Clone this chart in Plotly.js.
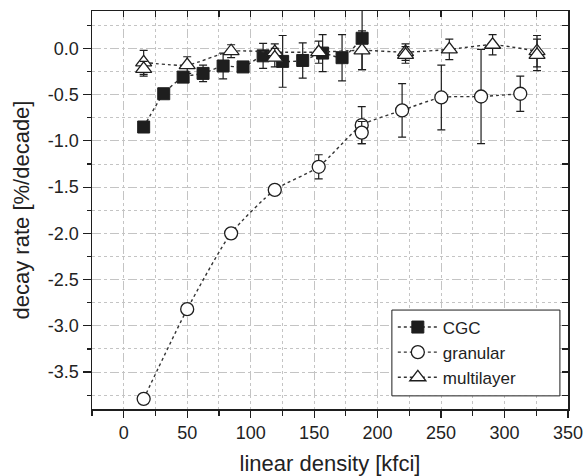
<!DOCTYPE html>
<html>
<head>
<meta charset="utf-8">
<script src="https://cdn.plot.ly/plotly-3.0.1.min.js"></script>
<style>html,body{margin:0;padding:0;background:#fff;}#chart{width:584px;height:476px;}</style>
</head>
<body>
<div id="chart"></div>
<script>
// CGC
const cgcX = [15.7, 31.5, 46.8, 62.5, 78.3, 94, 109.8, 125.2, 141, 156.7, 172, 187.8];
const cgcY = [-0.85, -0.49, -0.31, -0.27, -0.19, -0.20, -0.08, -0.14, -0.13, -0.05, -0.10, 0.11];
const cgcErr = [0.02, 0.02, 0.03, 0.09, 0.14, 0.03, 0.135, 0.28, 0.19, 0.2, 0.25, 0.34];
// granular
const granX = [15.7, 50, 84.6, 119, 153.6, 187.5, 219.3, 250.2, 281.5, 312.4];
const granY = [-3.79, -2.82, -2.00, -1.53, -1.28, -0.83, -0.67, -0.53, -0.52, -0.49];
const granErr = [0.03, 0.04, 0.05, 0.05, 0.13, 0.2, 0.29, 0.35, 0.51, 0.19];
const granExtraX = [187.5];
const granExtraY = [-0.91];
const granExtraErr = [0.12];
// multilayer
const multiX = [15.7, 50, 84.6, 119, 153.6, 187.7, 222, 256.5, 290.6, 325.6];
const multiY = [-0.15, -0.18, -0.03, -0.04, -0.04, -0.02, -0.04, -0.01, 0.04, -0.03];
const multiErr = [0.13, 0.09, 0.07, 0.09, 0.12, 0.21, 0.09, 0.11, 0.11, 0.17];
const multiExtraX = [15.7, 119, 222, 325.6];
const multiExtraY = [-0.22, -0.10, -0.07, -0.07];
const multiExtraErr = [0.08, 0.1, 0.09, 0.17];
// ticks
const xTickVals = [0, 50, 100, 150, 200, 250, 300, 350];
const xTickText = ["0", "50", "100", "150", "200", "250", "300", "350"];
const yTickVals = [0, -0.5, -1, -1.5, -2, -2.5, -3, -3.5];
const yTickText = ["0.0", "-0.5", "-1.0", "-1.5", "-2.0", "-2.5", "-3.0", "-3.5"];

const ink = '#1e1e1e';
const lineStyle = {color: '#333', width: 1.4, dash: 'dot', shape: 'spline', smoothing: 0.6};
function err(a) { return {type: 'data', array: a, visible: true, color: ink, thickness: 1.2, width: 4}; }

const traces = [
  {x: cgcX, y: cgcY, name: 'CGC', mode: 'lines+markers', line: lineStyle,
   marker: {symbol: 'square', size: 12, color: ink, line: {color: ink, width: 1}}, error_y: err(cgcErr)},
  {x: granX, y: granY, name: 'granular', mode: 'lines+markers', line: lineStyle,
   marker: {symbol: 'circle', size: 13, color: '#fff', line: {color: ink, width: 1.3}}, error_y: err(granErr)},
  {x: granExtraX, y: granExtraY, name: 'granular', showlegend: false, mode: 'markers',
   marker: {symbol: 'circle', size: 13, color: '#fff', line: {color: ink, width: 1.3}}, error_y: err(granExtraErr)},
  {x: multiX, y: multiY, name: 'multilayer', mode: 'lines+markers', line: lineStyle,
   marker: {symbol: 'triangle-up', size: 14, color: '#fff', line: {color: ink, width: 1.3}}, error_y: err(multiErr)},
  {x: multiExtraX, y: multiExtraY, name: 'multilayer', showlegend: false, mode: 'markers',
   marker: {symbol: 'triangle-up', size: 14, color: '#fff', line: {color: ink, width: 1.3}}, error_y: err(multiExtraErr)},
  {x: [0], y: [0], xaxis: 'x2', yaxis: 'y2', mode: 'markers', marker: {opacity: 0}, showlegend: false, hoverinfo: 'skip'}
];

const fam = 'Liberation Sans, Arial, sans-serif';
const font = {family: fam, size: 18, color: '#222'};
const xr = [-25, 350], yr = [-3.9, 0.405];

const layout = {
  width: 584, height: 476,
  margin: {l: 92, r: 16, t: 11, b: 67},
  paper_bgcolor: '#fff', plot_bgcolor: '#fff',
  font: font,
  showlegend: true,
  legend: {x: 0.632, y: 0.25, xanchor: 'left', yanchor: 'top', bgcolor: 'rgba(0,0,0,0)', borderwidth: 0,
           font: {family: fam, size: 17, color: '#222'}, tracegroupgap: 0, itemwidth: 40},
  shapes: [
    {type: 'rect', xref: 'paper', yref: 'paper', x0: 0.630, x1: 0.983, y0: 0.033, y1: 0.2486,
     fillcolor: '#fff', line: {color: ink, width: 1}, layer: 'above'}
  ],
  xaxis: {range: xr, tickvals: xTickVals, ticktext: xTickText, ticks: 'outside', ticklen: 7, tickwidth: 1.2, tickcolor: ink,
          showline: true, linecolor: ink, linewidth: 1.5, zeroline: false, mirror: true,
          showgrid: true, gridcolor: '#c4c4c4', griddash: 'dash', gridwidth: 1,
          minor: {dtick: 25, tick0: 0, ticks: 'outside', ticklen: 5, tickcolor: ink, tickwidth: 1.2, showgrid: true, gridcolor: '#c4c4c4', griddash: 'dot'},
          title: {text: 'linear density [kfci]', font: {family: fam, size: 22, color: '#222'}, standoff: 16},
          tickfont: font},
  yaxis: {range: yr, tickvals: yTickVals, ticktext: yTickText, ticks: 'outside', ticklen: 8, tickwidth: 1.2, tickcolor: ink,
          showline: true, linecolor: ink, linewidth: 1.5, zeroline: false, mirror: true,
          showgrid: true, gridcolor: '#c4c4c4', griddash: 'dash', gridwidth: 1,
          minor: {dtick: 0.25, tick0: 0, ticks: 'outside', ticklen: 4, tickcolor: ink, tickwidth: 1.2, showgrid: true, gridcolor: '#c4c4c4', griddash: 'dot'},
          title: {text: 'decay rate [%/decade]', font: {family: fam, size: 22, color: '#222'}, standoff: 12},
          tickfont: font},
  xaxis2: {overlaying: 'x', side: 'top', range: xr, tick0: 0, dtick: 25, ticks: 'inside', ticklen: 6, tickwidth: 1.2, tickcolor: ink,
           showticklabels: false, showgrid: false, zeroline: false, showline: false},
  yaxis2: {overlaying: 'y', side: 'right', range: yr, tick0: 0, dtick: 0.25, ticks: 'inside', ticklen: 6, tickwidth: 1.2, tickcolor: ink,
           showticklabels: false, showgrid: false, zeroline: false, showline: false}
};

Plotly.newPlot('chart', traces, layout, {displayModeBar: false, staticPlot: true});
</script>
</body>
</html>
